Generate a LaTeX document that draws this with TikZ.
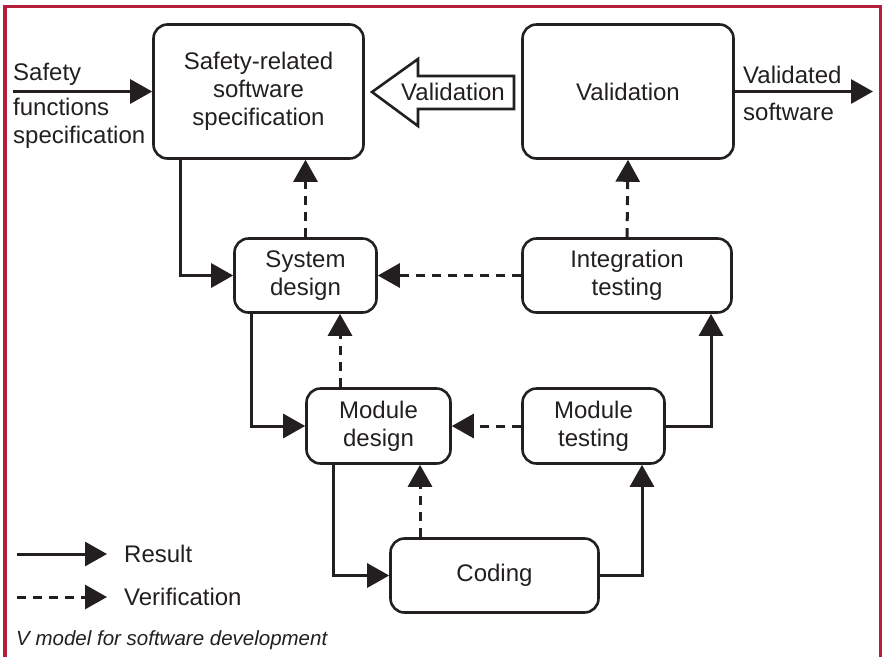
\documentclass[tikz,border=0pt]{standalone}
\usepackage{fontspec}
\setmainfont{Liberation Sans}
\usetikzlibrary{arrows.meta}
\definecolor{framered}{RGB}{181,30,60}
\definecolor{ink}{RGB}{35,31,32}

\begin{document}
\begin{tikzpicture}[x=1pt,y=-1pt,
        every node/.style={font=\fontsize{24}{28}\selectfont, text=ink},
        box/.style={draw=ink, line width=2.6pt, rounded corners=14pt, align=center, inner sep=0pt},
        result/.style={draw=ink, line width=3pt, -{Triangle[length=22pt,width=24pt]}},
        verif/.style={result, dash pattern=on 9pt off 7pt},
        lbl/.style={inner sep=0pt, anchor=west, align=left}]
        \useasboundingbox (0,0) rectangle (882,657);
        % Frame
        \draw[framered, line width=3.5pt] (5,657) -- (5,6.5) -- (880.5,6.5) -- (880.5,657);
        % Boxes
        \node[box, minimum width=210pt, minimum height=134pt] (spec) at (258.5,91.5) {Safety-related\\software\\specification};
        \node[box, minimum width=211pt, minimum height=134pt] (valid) at (628,91.5) {Validation};
        \node[box, minimum width=142pt, minimum height=74pt] (sysd) at (305.5,275.5) {System\\design};
        \node[box, minimum width=209pt, minimum height=74pt] (integ) at (627,275.5) {Integration\\testing};
        \node[box, minimum width=144pt, minimum height=75pt] (modd) at (378.5,426) {Module\\design};
        \node[box, minimum width=142pt, minimum height=75pt] (modt) at (593.5,426) {Module\\testing};
        \node[box, minimum width=208pt, minimum height=74pt] (cod) at (494.5,575.5) {Coding};
        % Validation block arrow
        \draw[ink, line width=2.6pt, line join=miter] (372,92) -- (418,59) -- (418,76) -- (514,76)
            -- (514,109) -- (418,109) -- (418,126) -- cycle;
        \node (valtxt) at (453,92) {Validation};
        % Input and output
        \coordinate (inp) at (13,91.5);
        \coordinate (out) at (873,91.5);
        \draw[result] (inp) -- (spec.west);
        \draw[result] (valid.east) -- (out);
        \node[lbl] (insafety) at (13,74) {Safety};
        \node[lbl] (infunc) at (13,123) {functions\\specification};
        \node[lbl] (outval) at (743,75) {Validated};
        \node[lbl] (outsw) at (743,112) {software};
        % Left side of the V
        \draw[result] ([xshift=-78.5pt]spec.south) |- (sysd.west);
        \draw[result] ([xshift=-54.5pt]sysd.south) |- (modd.west);
        \draw[result] ([xshift=-45pt]modd.south) |- (cod.west);
        % Right side of the V
        \draw[result] (cod.east) -| ([xshift=48.5pt]modt.south);
        \draw[result] (modt.east) -| ([xshift=84pt]integ.south);
        % Verification
        \draw[verif] (sysd.north) -- (sysd.north |- spec.south);
        \draw[verif] ([xshift=-38.5pt]modd.north) -- ([xshift=-38.5pt]modd.north |- sysd.south);
        \draw[verif] ([xshift=-74.5pt]cod.north) -- ([xshift=-74.5pt]cod.north |- modd.south);
        \draw[verif] (integ.west) -- (sysd.east);
        \draw[verif] (modt.west) -- (modd.east);
        \draw[verif] (integ.north) -- (valid.south);
        % Legend
        \coordinate (resa) at (17,554);
        \coordinate (resb) at (107,554);
        \coordinate (vera) at (17,597);
        \coordinate (verb) at (107,597);
        \draw[result] (resa) -- (resb);
        \draw[verif] (vera) -- (verb);
        \node[lbl] (restxt) at (124,554) {Result};
        \node[lbl] (vertxt) at (124,597) {Verification};
        \node[lbl, font=\fontsize{20.5}{24}\selectfont\itshape] (caption) at (16,640) {V model for software development};
    \end{tikzpicture}
\end{document}
